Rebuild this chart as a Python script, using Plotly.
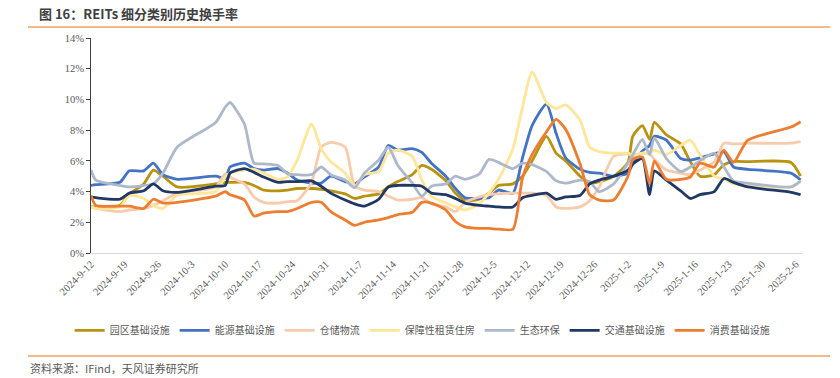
import pandas as pd
import plotly.graph_objects as go

# ---------------- data (% turnover) ----------------
dates = [
    "2024-09-12", "2024-09-13", "2024-09-18", "2024-09-20", "2024-09-23", "2024-09-25", "2024-09-27", "2024-09-30",
    "2024-10-08", "2024-10-10", "2024-10-11", "2024-10-14", "2024-10-16", "2024-10-18", "2024-10-21", "2024-10-23",
    "2024-10-25", "2024-10-28", "2024-10-30",
    "2024-11-01", "2024-11-04", "2024-11-06", "2024-11-08", "2024-11-11", "2024-11-13", "2024-11-15", "2024-11-18",
    "2024-11-20", "2024-11-22", "2024-11-25", "2024-11-27", "2024-11-29",
    "2024-12-02", "2024-12-04", "2024-12-06", "2024-12-09", "2024-12-11", "2024-12-13", "2024-12-16", "2024-12-18",
    "2024-12-20", "2024-12-23", "2024-12-25", "2024-12-27", "2024-12-30",
    "2025-01-02", "2025-01-03", "2025-01-05", "2025-01-06 12:00", "2025-01-07 12:00", "2025-01-10", "2025-01-13",
    "2025-01-15", "2025-01-17", "2025-01-20", "2025-01-22", "2025-01-24", "2025-01-27",
    "2025-02-05", "2025-02-07",
]

park = [3.0, 3.0, 3.1, 3.85, 4.5, 5.4, 5.0, 4.3,
        4.5, 4.6, 4.6, 4.6, 4.4, 4.1, 4.05, 4.1, 4.2, 4.2, 4.15,
        4.05, 3.85, 3.55, 3.7, 3.85, 4.3, 4.65, 5.1, 5.7, 5.45, 4.7, 3.9, 3.4,
        3.5, 3.9, 4.4, 4.5, 5.0, 6.0, 7.6, 6.5, 6.0, 5.0, 4.55, 4.65, 5.0,
        5.9, 7.6, 8.3, 7.4, 8.5, 7.7, 7.1, 5.95, 5.0, 5.1, 5.75, 5.95, 5.95,
        5.9, 5.0]

energy = [4.4, 4.45, 4.6, 5.35, 5.35, 5.85, 5.1, 4.8,
          5.0, 4.85, 5.6, 5.85, 5.5, 5.4, 5.5, 5.2, 4.75, 4.55, 4.55,
          5.0, 4.65, 4.5, 4.95, 5.6, 7.0, 6.7, 6.8, 6.55, 5.85, 5.0, 4.2, 3.6,
          3.55, 3.6, 4.1, 3.9, 6.2, 8.3, 9.7, 7.8, 6.2, 5.45, 5.25, 5.2, 5.0,
          5.2, 5.8, 6.65, 7.0, 7.6, 7.35, 6.15, 6.05, 6.2, 6.45, 6.6, 5.6, 5.45,
          5.2, 4.75]

storage = [3.0, 2.9, 2.7, 2.8, 2.9, 3.1, 3.4, 3.9,
           4.3, 5.15, 4.95, 4.5, 3.65, 3.3, 3.25, 3.35, 3.4, 4.6, 6.9,
           7.2, 6.9, 4.35, 4.1, 4.0, 3.7, 3.45, 3.5, 3.6, 3.2, 3.0, 2.7, 3.3,
           3.65, 3.8, 3.85, 3.9, 3.9, 3.9, 3.75, 3.0, 2.9, 3.0, 3.4, 4.3, 6.3,
           6.45, 6.3, 6.5, 6.45, 6.1, 5.4, 5.2, 5.1, 5.4, 5.95, 7.15, 7.1, 7.15,
           7.15, 7.25]

housing = [3.0, 2.9, 3.0, 3.75, 3.55, 3.1, 2.9, 3.75,
           4.0, 4.95, 5.2, 5.4, 5.45, 5.2, 4.8, 4.95, 6.05, 8.4, 6.8,
           5.95, 5.2, 4.35, 5.1, 5.3, 6.5, 6.7, 6.3, 4.75, 3.7, 3.25, 3.0, 2.8,
           3.2, 3.9, 4.8, 6.8, 9.5, 11.8, 9.8, 9.4, 9.65, 8.65, 6.9, 6.6, 6.5,
           6.5, 6.4, 6.5, 6.5, 6.7, 6.4, 7.0, 7.35, 6.4, 5.0, 4.8, 4.5, 4.4,
           4.3, 4.65]

eco = [5.4, 4.75, 4.4, 4.3, 4.4, 4.5, 5.2, 6.9,
       8.5, 9.5, 9.8, 8.4, 5.85, 5.8, 5.7, 5.15, 5.1, 5.1, 5.6,
       5.1, 4.75, 4.25, 5.2, 6.05, 6.9, 5.7, 4.55, 3.7, 4.35, 4.5, 5.0, 4.8,
       5.15, 6.1, 5.9, 5.5, 5.85, 5.75, 5.3, 4.7, 4.55, 4.75, 4.65, 4.0, 4.5,
       5.85, 6.4, 7.4, 6.4, 7.5, 6.15, 5.3, 5.6, 6.0, 6.5, 5.6, 4.7, 4.55,
       4.3, 4.7]

transport = [3.65, 3.6, 3.5, 3.9, 4.05, 4.5, 4.05, 3.95,
             4.35, 4.4, 5.2, 5.5, 5.25, 4.95, 4.6, 4.65, 4.65, 4.7, 4.35,
             3.9, 3.45, 3.2, 3.05, 3.5, 4.3, 4.4, 4.4, 4.35, 3.9, 3.8, 3.55, 3.25,
             3.1, 3.05, 3.0, 3.0, 3.6, 3.75, 3.9, 3.5, 3.65, 3.75, 4.5, 4.75, 5.0,
             5.4, 5.8, 6.15, 3.8, 5.35, 4.75, 4.05, 3.55, 3.8, 4.0, 4.85, 4.6, 4.3,
             3.95, 3.8]

consumer = [3.75, 3.1, 3.05, 3.05, 2.9, 3.5, 3.25, 3.3,
            3.7, 4.0, 3.8, 3.45, 2.4, 2.6, 2.7, 2.7, 2.9, 3.3, 3.3,
            2.7, 2.15, 1.8, 2.0, 2.15, 2.3, 2.5, 2.65, 3.3, 3.25, 2.8, 2.05, 1.7,
            1.6, 1.6, 1.55, 1.55, 4.9, 6.4, 7.9, 8.7, 8.05, 5.8, 3.8, 3.45, 3.45,
            5.0, 6.1, 6.25, 4.5, 6.0, 4.8, 4.8, 4.95, 5.85, 5.6, 6.7, 5.9, 7.35,
            8.2, 8.55]

series_names = ["园区基础设施", "能源基础设施", "仓储物流", "保障性租赁住房", "生态环保", "交通基础设施", "消费基础设施"]
series_values = [park, energy, storage, housing, eco, transport, consumer]
series_colors = ["#B8930F", "#4472C4", "#F8CBAD", "#FFE699", "#ADB9CA", "#203864", "#ED7D31"]

tick_labels = ["2024-9-12", "2024-9-19", "2024-9-26", "2024-10-3", "2024-10-10", "2024-10-17", "2024-10-24",
               "2024-10-31", "2024-11-7", "2024-11-14", "2024-11-21", "2024-11-28", "2024-12-5", "2024-12-12",
               "2024-12-19", "2024-12-26", "2025-1-2", "2025-1-9", "2025-1-16", "2025-1-23", "2025-1-30", "2025-2-6"]
y_ticks = [0, 2, 4, 6, 8, 10, 12, 14]

# ---------------- figure ----------------
x = pd.to_datetime(dates, format="mixed")
fig = go.Figure()
for name, vals, col in zip(series_names, series_values, series_colors):
    fig.add_trace(go.Scatter(
        x=x, y=vals, name=name, mode="lines",
        line=dict(color=col, width=2.8, shape="spline", smoothing=0.6),
    ))

serif = "Liberation Serif, Times New Roman, serif"
cjk = "Noto Sans CJK SC, sans-serif"

fig.update_layout(
    width=840, height=378, autosize=False,
    margin=dict(l=91, r=37, t=38, b=125),
    paper_bgcolor="white", plot_bgcolor="white",
    showlegend=True,
    legend=dict(orientation="h", x=-0.03, xanchor="left", y=-0.36, yanchor="middle",
                font=dict(family=cjk, size=10, color="#595959"),
                itemwidth=30, tracegroupgap=0, bgcolor="rgba(0,0,0,0)"),
    xaxis=dict(
        type="date",
        range=[pd.Timestamp("2024-09-12"), pd.Timestamp("2025-02-07 12:00")],
        tickmode="array", tickvals=pd.to_datetime(tick_labels), ticktext=tick_labels,
        tickangle=-45, tickfont=dict(family=serif, size=10.5, color="#595959"),
        showgrid=False, zeroline=False, showline=True, linecolor="#D9D9D9", linewidth=1,
        ticks="",
    ),
    yaxis=dict(
        range=[0, 14], tickmode="array", tickvals=y_ticks,
        ticktext=[f"{v}%" for v in y_ticks],
        tickfont=dict(family=serif, size=10.5, color="#595959"),
        showgrid=False, zeroline=False, showline=True, linecolor="#404040", linewidth=1,
        ticks="outside", ticklen=4, tickcolor="#404040",
    ),
)

# title, source and orange rules (paper coords relative to plot area)
fig.add_annotation(text="<b>图 16：REITs 细分类别历史换手率</b>", xref="paper", yref="paper",
                   x=-0.0758, y=1.116, xanchor="left", yanchor="middle", showarrow=False,
                   font=dict(family=cjk, size=13, color="#404040"))
fig.add_annotation(text="资料来源：IFind，天风证券研究所", xref="paper", yref="paper",
                   x=-0.0885, y=-0.535, xanchor="left", yanchor="middle", showarrow=False,
                   font=dict(family=cjk, size=11, color="#595959"))
fig.add_shape(type="line", xref="paper", yref="paper", x0=-0.0885, x1=1.038, y0=1.0512, y1=1.0512,
              line=dict(color="#F0A35E", width=1.5))
fig.add_shape(type="line", xref="paper", yref="paper", x0=-0.0885, x1=1.038, y0=-0.479, y1=-0.479,
              line=dict(color="#F0A35E", width=1.5))

fig.write_html("out.html", config={"displayModeBar": False},
               post_script="document.body.style.margin='0';")
